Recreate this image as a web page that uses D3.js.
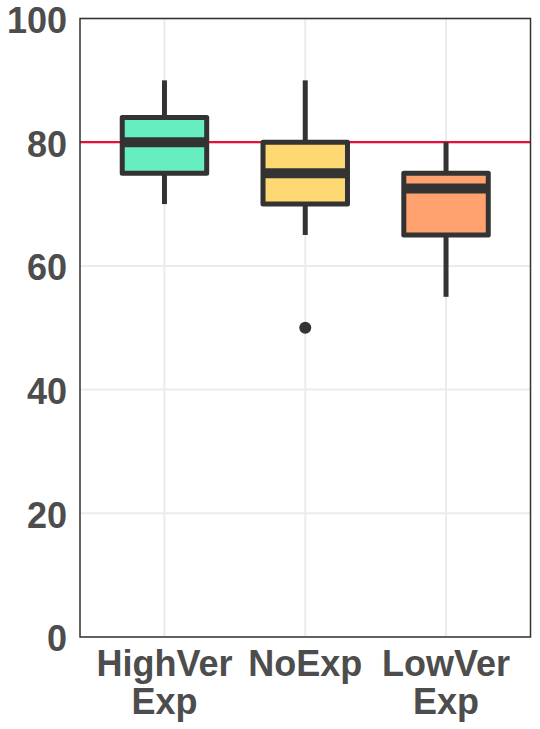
<!DOCTYPE html>
<html>
<head>
<meta charset="utf-8">
<script src="https://cdn.jsdelivr.net/npm/d3@7"></script>
<style>
  body { margin: 0; background: #fff; }
  svg { display: block; font-family: "Liberation Sans", Arial, sans-serif; }
</style>
</head>
<body>
<div id="chart"></div>
<script>
// box stats
var groups   = ["HighVer Exp", "NoExp", "LowVer Exp"];
var lowWhisk = [70, 65, 55];
var q1       = [75, 70, 65];
var medians  = [80, 75, 72.5];
var q3       = [84, 80, 75];
var highWhisk= [90, 90, 80];
var outliers = [[], [50], []];
var fills    = ["#66EEC1", "#FED973", "#FFA270"];
var yTicks   = [0, 20, 40, 60, 80, 100];
var refLine  = 80;

var width = 540, height = 729;
var margin = {top: 18.5, right: 9.5, bottom: 92, left: 80};

var svg = d3.select("#chart").append("svg")
    .attr("width", width)
    .attr("height", height);

var x = d3.scaleLinear()
    .domain([0.4, groups.length + 0.6])
    .range([margin.left, width - margin.right]);

var y = d3.scaleLinear()
    .domain([0, 100])
    .range([height - margin.bottom, margin.top]);

var g = svg.append("g");

// grid
g.selectAll(".hgrid")
    .data(yTicks)
    .enter().append("line")
    .attr("x1", x.range()[0]).attr("x2", x.range()[1])
    .attr("y1", d => y(d)).attr("y2", d => y(d))
    .attr("stroke", "#EBEBEB").attr("stroke-width", 2);

g.selectAll(".vgrid")
    .data(groups)
    .enter().append("line")
    .attr("x1", (d, i) => x(i + 1)).attr("x2", (d, i) => x(i + 1))
    .attr("y1", y.range()[0]).attr("y2", y.range()[1])
    .attr("stroke", "#EBEBEB").attr("stroke-width", 2);

// reference line
g.append("line")
    .attr("x1", x.range()[0]).attr("x2", x.range()[1])
    .attr("y1", y(refLine)).attr("y2", y(refLine))
    .attr("stroke", "#E8103A").attr("stroke-width", 2.2);

var boxW = x(1.3) - x(0.7);
var lw = 5;

var box = g.selectAll(".box")
    .data(groups)
    .enter().append("g");

// whiskers
box.append("line")
    .attr("x1", (d, i) => x(i + 1)).attr("x2", (d, i) => x(i + 1))
    .attr("y1", (d, i) => y(highWhisk[i])).attr("y2", (d, i) => y(q3[i]))
    .attr("stroke", "#333").attr("stroke-width", lw);
box.append("line")
    .attr("x1", (d, i) => x(i + 1)).attr("x2", (d, i) => x(i + 1))
    .attr("y1", (d, i) => y(lowWhisk[i])).attr("y2", (d, i) => y(q1[i]))
    .attr("stroke", "#333").attr("stroke-width", lw);

// box
box.append("rect")
    .attr("x", (d, i) => x(i + 1) - boxW / 2)
    .attr("width", boxW)
    .attr("y", (d, i) => y(q3[i]))
    .attr("height", (d, i) => y(q1[i]) - y(q3[i]))
    .attr("fill", (d, i) => fills[i])
    .attr("stroke", "#333").attr("stroke-width", lw)
    .attr("stroke-linejoin", "round");

// median
box.append("line")
    .attr("x1", (d, i) => x(i + 1) - boxW / 2).attr("x2", (d, i) => x(i + 1) + boxW / 2)
    .attr("y1", (d, i) => y(medians[i])).attr("y2", (d, i) => y(medians[i]))
    .attr("stroke", "#333").attr("stroke-width", lw * 2);

// outliers
groups.forEach(function(grp, i) {
    g.selectAll(".out" + i)
        .data(outliers[i])
        .enter().append("circle")
        .attr("cx", x(i + 1))
        .attr("cy", d => y(d))
        .attr("r", 6)
        .attr("fill", "#333");
});

// panel frame
g.append("rect")
    .attr("x", x.range()[0]).attr("y", y.range()[1])
    .attr("width", x.range()[1] - x.range()[0])
    .attr("height", y.range()[0] - y.range()[1])
    .attr("fill", "none")
    .attr("stroke", "#333").attr("stroke-width", 1.5);

// y labels
svg.selectAll(".ylab")
    .data(yTicks)
    .enter().append("text")
    .attr("x", margin.left - 13)
    .attr("y", d => y(d))
    .attr("dy", "0.4em")
    .attr("text-anchor", "end")
    .attr("font-size", 36)
    .attr("font-weight", "bold")
    .attr("fill", "#4D4D4D")
    .text(d => d);

// x labels (wrapped on space)
var xl = svg.selectAll(".xlab")
    .data(groups)
    .enter().append("text")
    .attr("text-anchor", "middle")
    .attr("font-size", 36)
    .attr("font-weight", "bold")
    .attr("fill", "#4D4D4D");

xl.each(function(d, i) {
    var parts = d.split(" ");
    d3.select(this).selectAll("tspan")
        .data(parts)
        .enter().append("tspan")
        .attr("x", x(i + 1))
        .attr("y", (p, j) => 676 + j * 38)
        .text(p => p);
});
</script>
</body>
</html>
